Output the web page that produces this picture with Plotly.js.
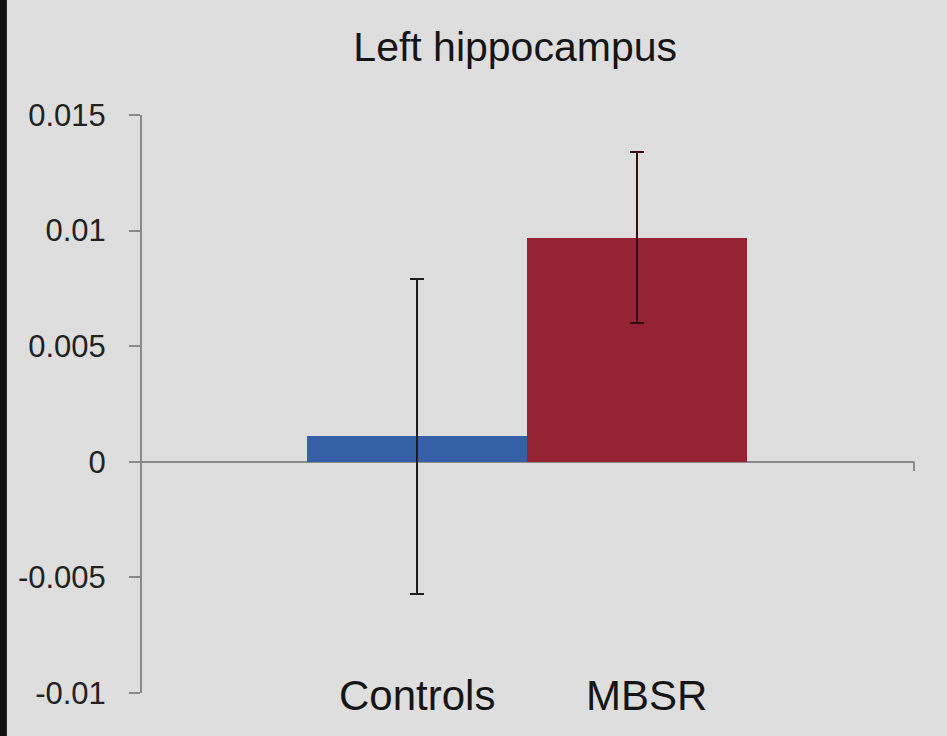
<!DOCTYPE html>
<html>
<head>
<meta charset="utf-8">
<script src="https://cdn.plot.ly/plotly-3.0.1.min.js"></script>
<style>html,body{margin:0;padding:0;background:#dedede;}#chart{width:947px;height:736px;}</style>
</head>
<body>
<div id="chart"></div>
<script>
var categories = ["Controls", "MBSR"];
var values = [0.0011, 0.0097];
var errors = [0.0068, 0.0037];
var barColors = ["#3660a8", "#952333"];
var errColors = ["#1e1e1e", "#3a0b10"];
var yTickVals = [-0.01, -0.005, 0, 0.005, 0.01, 0.015];
var yTickText = ["-0.01", "-0.005", "0", "0.005", "0.01", "0.015"];
var chartTitle = "Left hippocampus";

var labelShift = [0, 10];

var traces = categories.map(function (c, i) {
  return {
    type: "bar",
    x: [c],
    y: [values[i]],
    marker: {color: barColors[i], line: {width: 0}},
    error_y: {type: "data", array: [errors[i]], visible: true, color: errColors[i], thickness: 2, width: 7},
    showlegend: false,
    hoverinfo: "skip"
  };
});

var annotations = categories.map(function (c, i) {
  return {
    x: c, xref: "x", y: 0, yref: "paper", yanchor: "middle", yshift: -2, xshift: labelShift[i],
    text: c, showarrow: false,
    font: {family: "Liberation Sans, Arial, sans-serif", size: 42, color: "#151515"}
  };
});

var layout = {
  width: 947, height: 736,
  paper_bgcolor: "#dedede", plot_bgcolor: "#dedede",
  margin: {l: 142, r: 33, t: 115, b: 43},
  barmode: "overlay", bargap: 0,
  title: {text: chartTitle, x: 0.544, xanchor: "center", y: 0.937, yanchor: "middle",
    font: {family: "Liberation Sans, Arial, sans-serif", size: 41, color: "#151515"}},
  xaxis: {type: "category", range: [-1.25, 2.26], showticklabels: false, showgrid: false,
    zeroline: false, showline: false, ticks: "", fixedrange: true},
  yaxis: {range: [-0.01, 0.015], tickvals: yTickVals, ticktext: yTickText, showgrid: false,
    zeroline: true, zerolinecolor: "#8a8a8a", zerolinewidth: 2,
    showline: true, linecolor: "#8a8a8a", linewidth: 2,
    ticks: "outside", ticklen: 11, tickwidth: 2, tickcolor: "#8a8a8a",
    ticklabelstandoff: 17,
    tickfont: {family: "Liberation Sans, Arial, sans-serif", size: 31, color: "#222222"}},
  annotations: annotations,
  shapes: [
    {type: "line", xref: "paper", yref: "y", x0: 1, x1: 1, y0: 0, y1: -0.0004,
      line: {color: "#8a8a8a", width: 2}},
    {type: "rect", xref: "paper", yref: "paper", x0: -0.184, x1: -0.175, y0: -0.08, y1: 1.2,
      fillcolor: "#111111", line: {width: 0}, layer: "above"}
  ]
};

Plotly.newPlot("chart", traces, layout, {displayModeBar: false, staticPlot: true});
</script>
</body>
</html>
